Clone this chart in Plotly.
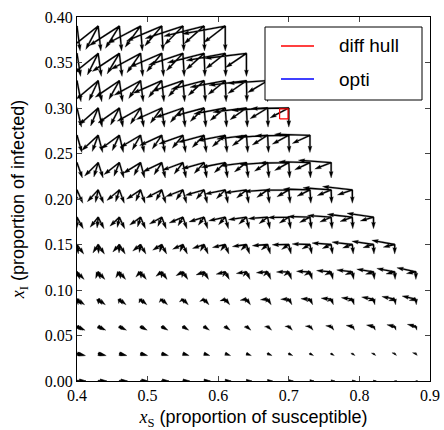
import numpy as np
import plotly.graph_objects as go

# Grid of states (x_S, x_I) on which the controlled dynamics are evaluated
s_values = [0.40, 0.43, 0.46, 0.49, 0.52, 0.55, 0.58, 0.61, 0.64,
            0.67, 0.70, 0.73, 0.76, 0.79, 0.82, 0.85, 0.88]
i_values = [0.00, 0.03, 0.06, 0.09, 0.12, 0.15, 0.18, 0.21, 0.24,
            0.27, 0.30, 0.33, 0.36, 0.39]

# Two extreme regimes of the dynamics (rates in screen-pixel arrow scale);
# intermediate controls are convex combinations of them.
delta = 15.0           # return flow into S:  delta*(1 - S - I)
# regime A: infection suppressed
removal_a = 64.0
# regime B: free transmission
contact_b = 180.0
spread_b = 200.0
removal_b = 142.0
# sampled weights of regime B in the velocity set
weights = [0.0, 0.5, 1.0]

# Hull of the reachable set and optimal trajectory
hull_s = [0.687, 0.699, 0.699, 0.687, 0.687]
hull_i = [0.288, 0.288, 0.299, 0.299, 0.288]
opti_s = [None]
opti_i = [None]

X_MIN, X_MAX, Y_MIN, Y_MAX = 0.4, 0.9, 0.0, 0.4
L, R, T, B = 77, 14, 17, 49
W, H = 444, 430
px_x = (W - L - R) / (X_MAX - X_MIN)
px_y = (H - T - B) / (Y_MAX - Y_MIN)

width = 1.3  # shaft width in px
headwidth, headlength, headaxislength = 3.0, 5.0, 4.5


def arrow_polygon(x0, y0, u, v):
    """Quiver-style arrow polygon (pixel vector u, v) with its tail on the anchor."""
    length = np.hypot(u, v) / width
    minsh = headlength
    if length < 1.0:
        th = np.arange(8) * np.pi / 3.0
        xs = np.cos(th) * 0.5
        ys = np.sin(th) * 0.5
    else:
        if length < minsh:
            xa = np.array([0, minsh - headaxislength, minsh - headlength, minsh])
            sh = length / minsh
        else:
            xa = np.array([0, -headaxislength, -headlength, 0]) + np.array([0, 1, 1, 1]) * length
            sh = 1.0
        ya = 0.5 * np.array([1, 1, headwidth, 0])
        idx = [0, 1, 2, 3, 2, 1, 0, 0]
        xs = xa[idx] * sh
        ys = ya[idx] * sh
        ys[3:-1] *= -1
    ang = np.arctan2(v, u)
    c, s = np.cos(ang), np.sin(ang)
    xr = (xs * c - ys * s) * width
    yr = (xs * s + ys * c) * width
    return list(x0 + xr / px_x) + [None], list(y0 + yr / px_y) + [None]


ax, ay = [], []
for xi in i_values:
    for xs in s_values:
        if xs + xi > 1.0 + 1e-9:
            continue
        back = delta * (1.0 - xs - xi)
        fa = (back, -removal_a * xi)
        fb = (back - contact_b * xs * xi, (spread_b * xs - removal_b) * xi)
        for w in weights:
            ds = (1.0 - w) * fa[0] + w * fb[0]
            di = (1.0 - w) * fa[1] + w * fb[1]
            px, py = arrow_polygon(xs, xi, ds, di)
            ax += px
            ay += py

fig = go.Figure()
fig.add_trace(go.Scatter(x=ax, y=ay, mode="lines", fill="toself",
                         fillcolor="black", line=dict(color="black", width=0.3),
                         hoverinfo="skip", showlegend=False))
fig.add_trace(go.Scatter(x=hull_s, y=hull_i, mode="lines", name="diff hull",
                         line=dict(color="red", width=1.2), showlegend=False))
fig.add_trace(go.Scatter(x=opti_s, y=opti_i, mode="lines", name="opti",
                         line=dict(color="blue", width=1.2), showlegend=False))


def paper_x(p):
    return (p - L) / (W - L - R)


def paper_y(p):
    return 1.0 - (p - T) / (H - T - B)


shapes = [
    dict(type="rect", xref="paper", yref="paper",
         x0=paper_x(265), x1=paper_x(422), y0=paper_y(100), y1=paper_y(27),
         line=dict(color="black", width=1), fillcolor="white"),
    dict(type="line", xref="paper", yref="paper",
         x0=paper_x(281), x1=paper_x(314), y0=paper_y(46), y1=paper_y(46),
         line=dict(color="#ff0000", width=1.5)),
    dict(type="line", xref="paper", yref="paper",
         x0=paper_x(281), x1=paper_x(314), y0=paper_y(79), y1=paper_y(79),
         line=dict(color="#0000ff", width=1.5)),
]
legend_font = dict(family="Liberation Sans", size=19, color="black")
annotations = [
    dict(text="diff hull", xref="paper", yref="paper", x=paper_x(337), y=paper_y(46),
         xanchor="left", yanchor="middle", showarrow=False, font=legend_font),
    dict(text="opti", xref="paper", yref="paper", x=paper_x(337), y=paper_y(79),
         xanchor="left", yanchor="middle", showarrow=False, font=legend_font),
]

tick_font = dict(family="Liberation Serif", size=16, color="black")
title_font = dict(family="Liberation Sans", size=18, color="black")
fig.update_layout(
    width=W, height=H,
    margin=dict(l=L, r=R, t=T, b=B),
    plot_bgcolor="white", paper_bgcolor="white",
    showlegend=False,
    shapes=shapes,
    annotations=annotations,
    xaxis=dict(range=[X_MIN, X_MAX], tickvals=[0.4, 0.5, 0.6, 0.7, 0.8, 0.9],
               ticktext=["0.4", "0.5", "0.6", "0.7", "0.8", "0.9"],
               ticks="inside", ticklen=5, mirror="allticks", showline=True,
               linecolor="black", linewidth=1, showgrid=False, zeroline=False,
               tickfont=tick_font, automargin=False,
               title=dict(text='<span style="font-family:Liberation Serif"><i>x</i><sub>S</sub></span> (proportion of susceptible)',
                          font=title_font, standoff=9)),
    yaxis=dict(range=[Y_MIN, Y_MAX],
               tickvals=[0.0, 0.05, 0.1, 0.15, 0.2, 0.25, 0.3, 0.35, 0.4],
               ticktext=["0.00", "0.05", "0.10", "0.15", "0.20", "0.25", "0.30", "0.35", "0.40"],
               ticks="inside", ticklen=5, mirror="allticks", showline=True,
               linecolor="black", linewidth=1, showgrid=False, zeroline=False,
               tickfont=tick_font, automargin=False,
               title=dict(text='<span style="font-family:Liberation Serif"><i>x</i><sub>I</sub></span> (proportion of infected)',
                          font=title_font, standoff=15)),
)

fig.write_html("out.html")
